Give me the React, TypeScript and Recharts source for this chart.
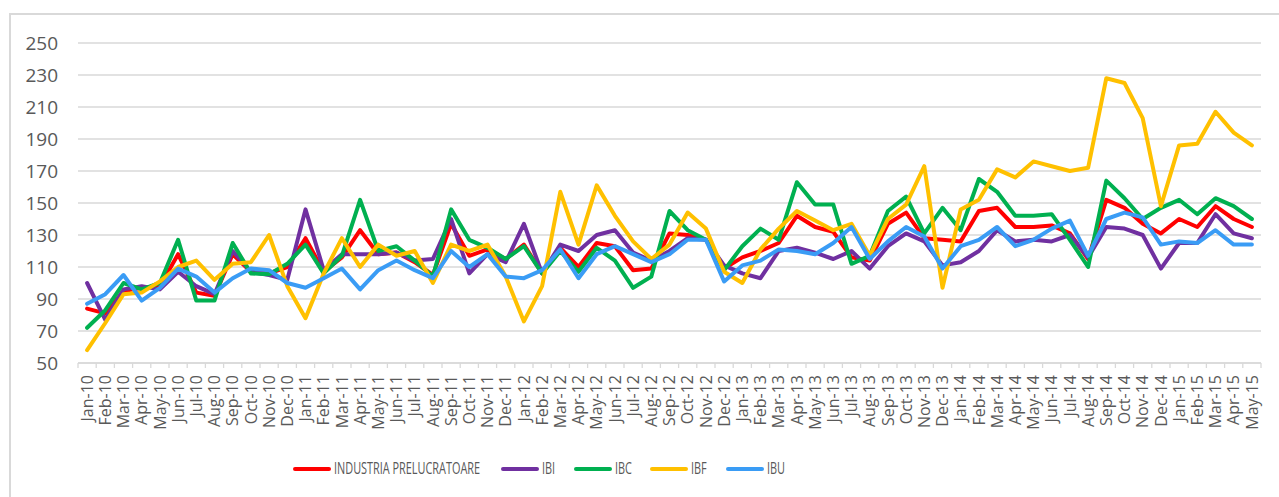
import { LineChart, Line, XAxis, YAxis, CartesianGrid, Legend } from 'recharts'

const months = [
  'Jan-10', 'Feb-10', 'Mar-10', 'Apr-10', 'May-10', 'Jun-10', 'Jul-10', 'Aug-10', 'Sep-10', 'Oct-10', 'Nov-10', 'Dec-10',
  'Jan-11', 'Feb-11', 'Mar-11', 'Apr-11', 'May-11', 'Jun-11', 'Jul-11', 'Aug-11', 'Sep-11', 'Oct-11', 'Nov-11', 'Dec-11',
  'Jan-12', 'Feb-12', 'Mar-12', 'Apr-12', 'May-12', 'Jun-12', 'Jul-12', 'Aug-12', 'Sep-12', 'Oct-12', 'Nov-12', 'Dec-12',
  'Jan-13', 'Feb-13', 'Mar-13', 'Apr-13', 'May-13', 'Jun-13', 'Jul-13', 'Aug-13', 'Sep-13', 'Oct-13', 'Nov-13', 'Dec-13',
  'Jan-14', 'Feb-14', 'Mar-14', 'Apr-14', 'May-14', 'Jun-14', 'Jul-14', 'Aug-14', 'Sep-14', 'Oct-14', 'Nov-14', 'Dec-14',
  'Jan-15', 'Feb-15', 'Mar-15', 'Apr-15', 'May-15',
]

const industria = [
  84, 81, 95, 97, 98, 118, 94, 92, 118, 107, 106, 110,
  128, 107, 116, 133, 118, 119, 113, 105, 137, 117, 121, 115,
  124, 106, 122, 110, 125, 123, 108, 109, 131, 130, 127, 109,
  116, 120, 125, 142, 135, 132, 116, 114, 137, 144, 128, 127,
  126, 145, 147, 135, 135, 136, 131, 115, 152, 147, 137, 131,
  140, 135, 148, 140, 135,
]

const ibi = [
  100, 77, 96, 98, 96, 107, 98, 93, 120, 107, 105, 102,
  146, 108, 118, 118, 118, 119, 114, 115, 140, 106, 118, 113,
  137, 106, 124, 120, 130, 133, 119, 114, 120, 128, 127, 111,
  106, 103, 120, 122, 119, 115, 120, 109, 123, 131, 126, 111,
  113, 120, 133, 126, 127, 126, 130, 116, 135, 134, 130, 109,
  125, 125, 143, 131, 128,
]

const ibc = [
  72, 83, 100, 96, 100, 127, 89, 89, 125, 106, 105.5, 112,
  124, 106, 117, 152, 120, 123, 114, 104, 146, 127, 122, 115,
  123, 106, 120, 107, 122, 114, 97, 104, 145, 133, 127, 108,
  123, 134, 127, 163, 149, 149, 112, 117, 145, 154, 131, 147,
  133, 165, 157, 142, 142, 143, 127, 110, 164, 153, 140, 147,
  152, 143, 153, 148, 140,
]

const ibf = [
  58, 75, 93, 94, 101, 110, 114, 102, 112, 113, 130, 98,
  78, 106, 128, 110, 124, 117, 120, 100, 124, 120, 124, 104,
  76, 98, 157, 124, 161, 142, 126, 115, 124, 144, 134, 107,
  100, 121, 134, 145, 139, 133, 137, 117, 140, 149, 173, 97,
  146, 152, 171, 166, 176, 173, 170, 172, 228, 225, 203, 148,
  186, 187, 207, 194, 186,
]

const ibu = [
  87, 93, 105, 89, 97, 109, 104, 94, 103, 109, 108, 100,
  97, 103, 109, 96, 108, 114, 108, 103, 120, 110, 118, 104,
  103, 108, 121, 103, 118, 123, 118, 113, 118, 127, 127, 101,
  111, 114, 121, 120, 118, 125, 135, 115, 126, 135, 129, 109,
  123, 127, 135, 123, 127, 134, 139, 117, 140, 144, 141, 124,
  126, 125, 133, 124, 124,
]

const yTicks = [50, 70, 90, 110, 130, 150, 170, 190, 210, 230, 250]

const series = [
  { key: 'industria', name: 'INDUSTRIA PRELUCRATOARE', values: industria, color: '#ff0000' },
  { key: 'ibi', name: 'IBI', values: ibi, color: '#7030a0' },
  { key: 'ibc', name: 'IBC', values: ibc, color: '#00b050' },
  { key: 'ibf', name: 'IBF', values: ibf, color: '#ffc000' },
  { key: 'ibu', name: 'IBU', values: ibu, color: '#3a9cf5' },
]

const data = months.map((m, i) => {
  const row: Record<string, string | number> = { month: m }
  series.forEach((s) => (row[s.key] = s.values[i]))
  return row
})

const W = 1279
const H = 497
const PLOT_LEFT = 78
const PLOT_RIGHT = 1261
const BAND = (PLOT_RIGHT - PLOT_LEFT) / months.length
const GRID = '#d9d9d9'
const TEXT = '#595959'
const LEGEND_SCALE = 0.66

function MonthTick(props: any) {
  const { x, y, payload, index } = props
  const last = index === months.length - 1
  return (
    <g>
      <line x1={x - BAND / 2} x2={x - BAND / 2} y1={y} y2={y + 5} stroke={GRID} strokeWidth={1.3} />
      {last && <line x1={x + BAND / 2} x2={x + BAND / 2} y1={y} y2={y + 5} stroke={GRID} strokeWidth={1.3} />}
      <text
        transform={`translate(${x},${y + 12}) rotate(-90)`}
        textAnchor="end"
        dy="0.36em"
        fill={TEXT}
        fontSize={16}
        fontFamily="'Open Sans', sans-serif"
      >
        {payload.value}
      </text>
    </g>
  )
}

// rough width of a squeezed caps label (narrow I and space)
const labelWidth = (t: string) =>
  t.split('').reduce((w, c) => w + (c === 'I' || c === ' ' ? 0.3 : 0.66), 0) * 10.6

function LegendLabel({ text }: { text: string }) {
  return (
    <span style={{ display: 'inline-block', width: labelWidth(text), whiteSpace: 'nowrap', lineHeight: '20px' }}>
      <span
        style={{
          display: 'inline-block',
          fontSize: 16.5,
          color: TEXT,
          fontFamily: "'Open Sans', sans-serif",
          transform: `scaleX(${LEGEND_SCALE})`,
          transformOrigin: 'left center',
        }}
      >
        {text}
      </span>
    </span>
  )
}

function LegendBox() {
  return (
    <div style={{ display: 'flex', alignItems: 'center', paddingLeft: 293 }}>
      {series.map((s) => (
        <div key={s.key} style={{ display: 'flex', alignItems: 'center', marginRight: 18 }}>
          <div style={{ width: 38, height: 4, borderRadius: 2, background: s.color, marginRight: 3 }} />
          <LegendLabel text={s.name} />
        </div>
      ))}
    </div>
  )
}

export default function App() {
  return (
    <div style={{ position: 'absolute', left: 0, top: 0, width: W, height: H, overflow: 'hidden', background: '#fff' }}>
      <div
        style={{
          position: 'absolute',
          left: 9,
          top: 13,
          width: 1400,
          height: 700,
          border: `2px solid ${GRID}`,
          boxSizing: 'border-box',
        }}
      />
      <div style={{ position: 'absolute', left: 0, top: 0 }}>
        <LineChart width={W} height={H} data={data} margin={{ top: 43, right: W - PLOT_RIGHT, left: 0, bottom: 64 }}>
          <CartesianGrid vertical={false} stroke={GRID} strokeWidth={1.3} />
          <XAxis
            dataKey="month"
            scale="band"
            interval={0}
            height={70}
            tickLine={false}
            tickSize={0}
            tickMargin={0}
            axisLine={{ stroke: GRID, strokeWidth: 1.3 }}
            tick={<MonthTick />}
          />
          <YAxis
            width={PLOT_LEFT}
            domain={[50, 250]}
            ticks={yTicks}
            interval={0}
            axisLine={false}
            tickLine={false}
            tickSize={0}
            tickMargin={20}
            tick={{ fill: TEXT, fontSize: 19, fontFamily: "'Open Sans', sans-serif" }}
          />
          {series.map((s) => (
            <Line
              key={s.key}
              dataKey={s.key}
              name={s.name}
              stroke={s.color}
              strokeWidth={4}
              strokeLinejoin="round"
              strokeLinecap="round"
              dot={false}
              activeDot={false}
              isAnimationActive={false}
              type="linear"
            />
          ))}
          <Legend
            layout="horizontal"
            verticalAlign="middle"
            align="center"
            content={() => <LegendBox />}
            wrapperStyle={{ top: 458, left: 0, width: W }}
          />
        </LineChart>
      </div>
    </div>
  )
}
